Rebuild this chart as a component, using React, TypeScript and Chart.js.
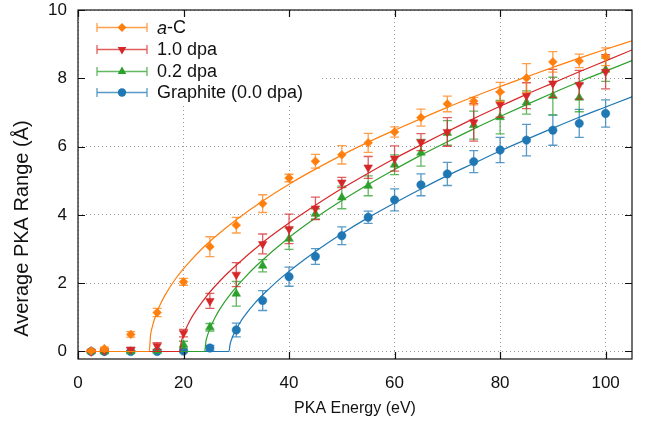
import React, { useEffect, useRef } from "react";
import { Chart, registerables } from "chart.js";

Chart.register(...registerables);

const FONT = '"Liberation Sans", Arial, Helvetica, sans-serif';

// PKA energies (eV) at which the ranges were averaged
const energies = [2.5, 5, 10, 15, 20, 25, 30, 35, 40, 45, 50, 55, 60, 65, 70, 75, 80, 85, 90, 95, 100];

// Average PKA range (Å) and its uncertainty, per material
const rangeAC = [0.02, 0.08, 0.5, 1.14, 2.04, 3.07, 3.7, 4.33, 5.08, 5.57, 5.76, 6.11, 6.43, 6.85, 7.25, 7.33, 7.6, 8.01, 8.48, 8.51, 8.63];
const errAC = [0.03, 0.05, 0.08, 0.12, 0.1, 0.29, 0.23, 0.26, 0.11, 0.2, 0.27, 0.28, 0.15, 0.25, 0.23, 0.11, 0.28, 0.42, 0.3, 0.2, 0.26];

const range10 = [0.0, 0.02, 0.06, 0.16, 0.54, 1.48, 2.25, 3.15, 3.59, 4.19, 4.95, 5.39, 5.65, 6.13, 6.43, 6.71, 7.23, 7.49, 7.85, 7.81, 8.19];
const err10 = [0.02, 0.02, 0.05, 0.1, 0.11, 0.22, 0.35, 0.29, 0.43, 0.33, 0.15, 0.32, 0.37, 0.25, 0.42, 0.55, 0.37, 0.38, 0.41, 0.42, 0.5];

const range02 = [0.0, 0.0, 0.0, 0.02, 0.2, 0.71, 1.69, 2.51, 3.3, 4.03, 4.51, 4.85, 5.47, 5.82, 6.4, 6.63, 6.86, 7.29, 7.48, 7.43, 8.25];
const err02 = [0.02, 0.02, 0.02, 0.03, 0.1, 0.11, 0.36, 0.18, 0.31, 0.15, 0.33, 0.29, 0.29, 0.39, 0.36, 0.41, 0.49, 0.34, 0.55, 0.41, 0.34];

const rangeGr = [0.0, 0.0, 0.0, 0.0, 0.01, 0.1, 0.63, 1.49, 2.19, 2.78, 3.39, 3.93, 4.44, 4.88, 5.2, 5.56, 5.9, 6.19, 6.48, 6.68, 6.97];
const errGr = [0.02, 0.02, 0.02, 0.02, 0.03, 0.08, 0.2, 0.29, 0.28, 0.23, 0.26, 0.18, 0.32, 0.32, 0.34, 0.32, 0.37, 0.46, 0.44, 0.41, 0.4];

// Threshold fits, sampled along the energy axis
const fitEnergyAC = [0, 13.5, 13.75, 14, 14.5, 15.5, 16.5, 18.5, 21, 23.5, 26, 30, 35, 40, 45, 50, 55, 60, 65, 70, 75, 80, 85, 90, 95, 100, 105];
const fitRangeAC = [0, 0, 0.48, 0.67, 0.95, 1.35, 1.65, 2.13, 2.6, 3.01, 3.36, 3.86, 4.41, 4.9, 5.34, 5.75, 6.13, 6.48, 6.82, 7.15, 7.46, 7.76, 8.04, 8.32, 8.59, 8.85, 9.1];

const fitEnergy10 = [0, 19.3, 19.55, 19.8, 20.3, 21.3, 22.3, 24.3, 26.8, 29.3, 35, 40, 45, 50, 55, 60, 65, 70, 75, 80, 85, 90, 95, 100, 105];
const fitRange10 = [0, 0, 0.27, 0.4, 0.61, 0.93, 1.18, 1.61, 2.05, 2.43, 3.19, 3.76, 4.28, 4.77, 5.22, 5.65, 6.05, 6.44, 6.82, 7.18, 7.53, 7.86, 8.19, 8.51, 8.83];

const fitEnergy02 = [0, 24, 24.25, 24.5, 25, 26, 27, 29, 31.5, 34, 40, 45, 50, 55, 60, 65, 70, 75, 80, 85, 90, 95, 100, 105];
const fitRange02 = [0, 0, 0.3, 0.45, 0.67, 1.0, 1.27, 1.7, 2.15, 2.54, 3.34, 3.91, 4.42, 4.89, 5.33, 5.75, 6.14, 6.52, 6.88, 7.23, 7.57, 7.9, 8.21, 8.52];

const fitEnergyGr = [0, 28.6, 28.85, 29.1, 29.6, 30.6, 31.6, 33.6, 36.1, 38.6, 45, 50, 55, 60, 65, 70, 75, 80, 85, 90, 95, 100, 105];
const fitRangeGr = [0, 0, 0.23, 0.35, 0.54, 0.82, 1.05, 1.43, 1.82, 2.17, 2.93, 3.45, 3.92, 4.35, 4.76, 5.15, 5.51, 5.87, 6.21, 6.54, 6.86, 7.16, 7.46];

// Axis limits and tick steps
const xLimits = [0, 105];
const yLimits = [-0.22, 10];
const xStep = 20;
const yStep = 2;

const axisTitleX = "PKA Energy (eV)";
const axisTitleY = "Average PKA Range (Å)";

type Marker = "diamond" | "down" | "up" | "circle";

interface Series {
  label: string;
  italicPrefix?: string;
  color: string;
  barColor: string;
  marker: Marker;
  values: number[];
  errors: number[];
  fitE: number[];
  fitR: number[];
}

const seriesList: Series[] = [
  { label: "-C", italicPrefix: "a", color: "#ff7f0e", barColor: "rgba(255,127,14,0.75)", marker: "diamond", values: rangeAC, errors: errAC, fitE: fitEnergyAC, fitR: fitRangeAC },
  { label: "1.0 dpa", color: "#d62728", barColor: "rgba(214,39,40,0.75)", marker: "down", values: range10, errors: err10, fitE: fitEnergy10, fitR: fitRange10 },
  { label: "0.2 dpa", color: "#2ca02c", barColor: "rgba(44,160,44,0.75)", marker: "up", values: range02, errors: err02, fitE: fitEnergy02, fitR: fitRange02 },
  { label: "Graphite (0.0 dpa)", color: "#1f77b4", barColor: "rgba(31,119,180,0.75)", marker: "circle", values: rangeGr, errors: errGr, fitE: fitEnergyGr, fitR: fitRangeGr },
];

const markerStyle: Record<Marker, { style: string; radius: number; rotation: number }> = {
  diamond: { style: "rectRot", radius: 4.4, rotation: 0 },
  down: { style: "triangle", radius: 5, rotation: 180 },
  up: { style: "triangle", radius: 5, rotation: 0 },
  circle: { style: "circle", radius: 4.2, rotation: 0 },
};

function drawMarker(ctx: CanvasRenderingContext2D, m: Marker, x: number, y: number, color: string) {
  const r = markerStyle[m].radius;
  ctx.save();
  ctx.fillStyle = color;
  ctx.beginPath();
  if (m === "circle") {
    ctx.arc(x, y, r, 0, Math.PI * 2);
  } else if (m === "diamond") {
    ctx.moveTo(x, y - r);
    ctx.lineTo(x + r, y);
    ctx.lineTo(x, y + r);
    ctx.lineTo(x - r, y);
    ctx.closePath();
  } else {
    const s = m === "up" ? 1 : -1;
    const h = r * 0.5;
    const w = r * Math.sqrt(3) / 2;
    ctx.moveTo(x, y - s * r);
    ctx.lineTo(x + w, y + s * h);
    ctx.lineTo(x - w, y + s * h);
    ctx.closePath();
  }
  ctx.fill();
  ctx.restore();
}

const CAP = 4.5;

// Vertical error bars, drawn just beneath each point dataset
const errorBarPlugin = {
  id: "errorBars",
  beforeDatasetDraw(chart: any, args: any) {
    const ds = chart.data.datasets[args.index];
    if (!ds.errors) return;
    const ctx: CanvasRenderingContext2D = chart.ctx;
    const ys = chart.scales.y;
    ctx.save();
    ctx.strokeStyle = ds.barColor;
    ctx.lineWidth = 1.3;
    args.meta.data.forEach((pt: any, k: number) => {
      const v = ds.data[k].y;
      const e = ds.errors[k];
      const x = pt.x;
      const yTop = ys.getPixelForValue(v + e);
      const yBot = ys.getPixelForValue(v - e);
      ctx.beginPath();
      ctx.moveTo(x, yTop);
      ctx.lineTo(x, yBot);
      ctx.moveTo(x - CAP, yTop);
      ctx.lineTo(x + CAP, yTop);
      ctx.moveTo(x - CAP, yBot);
      ctx.lineTo(x + CAP, yBot);
      ctx.stroke();
    });
    ctx.restore();
  },
};

// Opaque key box, frame with inward mirrored ticks, the key and the y title
const framePlugin = {
  id: "frameAndKey",
  beforeDatasetsDraw(chart: any) {
    const { ctx, chartArea } = chart;
    ctx.save();
    ctx.fillStyle = "#ffffff";
    ctx.fillRect(chartArea.left + 1, chartArea.top + 1, 240, 94);
    ctx.restore();
  },
  afterDraw(chart: any) {
    const { ctx, chartArea } = chart;
    const { left, right, top, bottom } = chartArea;
    const xs = chart.scales.x;
    const ys = chart.scales.y;
    const TL = 7;
    ctx.save();
    ctx.strokeStyle = "#111";
    ctx.lineWidth = 1.2;
    ctx.beginPath();
    xs.ticks.forEach((t: any) => {
      const px = Math.round(xs.getPixelForValue(t.value)) + 0.5;
      ctx.moveTo(px, bottom);
      ctx.lineTo(px, bottom - TL);
      ctx.moveTo(px, top);
      ctx.lineTo(px, top + TL);
    });
    ys.ticks.forEach((t: any) => {
      const py = Math.round(ys.getPixelForValue(t.value)) + 0.5;
      ctx.moveTo(left, py);
      ctx.lineTo(left + TL, py);
      ctx.moveTo(right, py);
      ctx.lineTo(right - TL, py);
    });
    ctx.stroke();
    ctx.strokeRect(left, top, right - left, bottom - top);
    ctx.restore();

    // y axis title
    ctx.save();
    ctx.translate(22, ys.getPixelForValue(3.6));
    ctx.rotate(-Math.PI / 2);
    ctx.textAlign = "center";
    ctx.textBaseline = "middle";
    ctx.fillStyle = "#111";
    ctx.font = `20px ${FONT}`;
    ctx.fillText(axisTitleY, 0, 0);
    ctx.restore();

    // key
    const x0 = left + 19;
    const x1 = left + 69;
    const xm = (x0 + x1) / 2;
    const tx = left + 79;
    ctx.save();
    ctx.textBaseline = "middle";
    ctx.fillStyle = "#111";
    seriesList.forEach((s, i) => {
      const y = Math.round(top + 17 + i * 21.8) + 0.5;
      ctx.strokeStyle = s.barColor;
      ctx.lineWidth = 1.3;
      ctx.beginPath();
      ctx.moveTo(x0, y);
      ctx.lineTo(x1, y);
      ctx.moveTo(x0, y - CAP);
      ctx.lineTo(x0, y + CAP);
      ctx.moveTo(x1, y - CAP);
      ctx.lineTo(x1, y + CAP);
      ctx.stroke();
      drawMarker(ctx, s.marker, xm, y, s.color);
      let cx = tx;
      ctx.fillStyle = "#111";
      if (s.italicPrefix) {
        ctx.font = `italic 18px ${FONT}`;
        ctx.fillText(s.italicPrefix, cx, y + 1);
        cx += ctx.measureText(s.italicPrefix).width;
      }
      ctx.font = `18px ${FONT}`;
      ctx.fillText(s.label, cx, y + 1);
    });
    ctx.restore();
  },
};

function buildDatasets() {
  const out: any[] = [];
  seriesList.forEach((s, i) => {
    const ms = markerStyle[s.marker];
    out.push({
      label: (s.italicPrefix ?? "") + s.label,
      data: energies.map((e, k) => ({ x: e, y: s.values[k] })),
      showLine: false,
      pointStyle: ms.style,
      pointRadius: ms.radius,
      pointRotation: ms.rotation,
      pointBackgroundColor: s.color,
      pointBorderColor: s.color,
      pointBorderWidth: 0.5,
      errors: s.errors,
      barColor: s.barColor,
      order: 2 * i,
    });
    out.push({
      label: (s.italicPrefix ?? "") + s.label + " fit",
      data: s.fitE.map((e, k) => ({ x: e, y: s.fitR[k] })),
      showLine: true,
      borderColor: s.color,
      borderWidth: 1.2,
      pointRadius: 0,
      cubicInterpolationMode: "monotone",
      fill: false,
      order: 2 * i + 1,
    });
  });
  return out;
}

export default function App() {
  const ref = useRef<HTMLCanvasElement>(null);

  useEffect(() => {
    Chart.defaults.font.family = FONT;
    const chart = new Chart(ref.current as HTMLCanvasElement, {
      type: "scatter",
      data: { datasets: buildDatasets() },
      options: {
        animation: false,
        responsive: false,
        devicePixelRatio: 1,
        layout: { padding: { top: 10, right: 14, left: 0, bottom: 0 } },
        plugins: { legend: { display: false }, tooltip: { enabled: false } },
        scales: {
          x: {
            type: "linear",
            min: xLimits[0],
            max: xLimits[1],
            afterFit: (s: any) => {
              s.height = 65;
              s.paddingLeft = 0;
              s.paddingRight = 0;
            },
            ticks: {
              stepSize: xStep,
              includeBounds: false,
              color: "#111",
              font: { size: 17, family: FONT },
              padding: 14,
              maxRotation: 0,
            },
            grid: { color: "#9a9a9a", lineWidth: 1, drawTicks: false },
            border: { display: false, dash: [1, 3] },
            title: { display: true, text: axisTitleX, color: "#111", font: { size: 16, family: FONT }, padding: { bottom: 6 } },
          },
          y: {
            type: "linear",
            min: yLimits[0],
            max: yLimits[1],
            afterFit: (s: any) => {
              s.width = 78;
              s.paddingTop = 0;
              s.paddingBottom = 0;
            },
            ticks: {
              stepSize: yStep,
              includeBounds: false,
              color: "#111",
              font: { size: 17, family: FONT },
              padding: 11,
            },
            grid: { color: "#9a9a9a", lineWidth: 1, drawTicks: false },
            border: { display: false, dash: [1, 3] },
          },
        },
      },
      plugins: [errorBarPlugin, framePlugin],
    } as any);
    return () => chart.destroy();
  }, []);

  return (
    <div style={{ position: "fixed", left: 0, top: 0, width: 646, height: 424, background: "#fff" }}>
      <canvas ref={ref} width={646} height={424} style={{ display: "block" }} />
    </div>
  );
}
